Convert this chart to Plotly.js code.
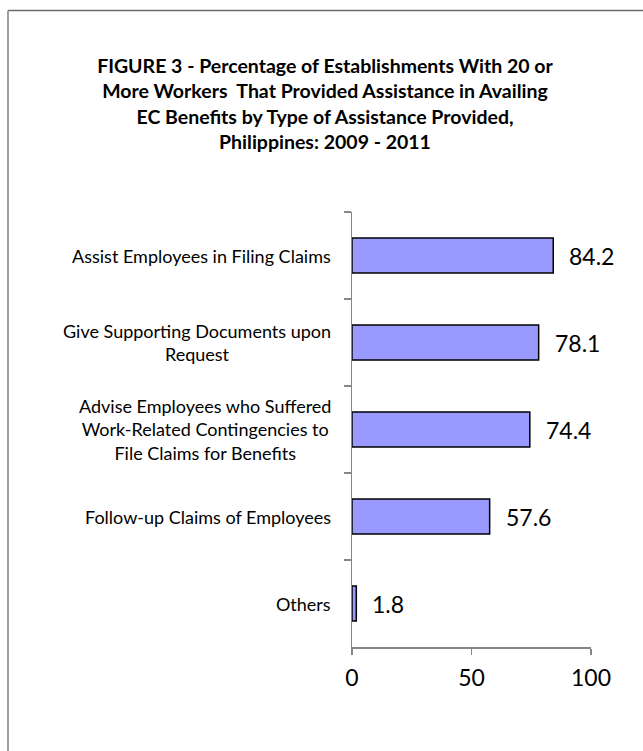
<!DOCTYPE html>
<html>
<head>
<meta charset="utf-8">
<script src="https://cdn.plot.ly/plotly-3.0.1.min.js"></script>
<style>
html,body{margin:0;padding:0;background:#fff;}
#chart{width:643px;height:751px;}
</style>
</head>
<body>
<div id="chart"></div>
<script>
const categories = [
  "Assist Employees in Filing Claims",
  "Give Supporting Documents upon<br>Request",
  "Advise Employees who Suffered<br>Work-Related Contingencies to<br>File Claims for Benefits",
  "Follow-up Claims of Employees",
  "Others"
];
const values = [84.2, 78.1, 74.4, 57.6, 1.8];
const valueLabels = ["84.2", "78.1", "74.4", "57.6", "1.8"];
const xTickVals = [0, 50, 100];
const xTickText = ["0", "50", "100"];
const titleText = "FIGURE 3 - Percentage of Establishments With 20 or<br>More Workers  That Provided Assistance in Availing<br>EC Benefits by Type of Assistance Provided,<br>Philippines: 2009 - 2011";

const FONT = "Lato, 'Liberation Sans', sans-serif";
const W = 643, H = 751;
const M = {l: 352, r: 52, t: 212, b: 104};
const pw = W - M.l - M.r, ph = H - M.t - M.b;
const px2x = p => (p - M.l) / pw;
const py2y = p => (H - M.b - p) / ph;

const trace = {
  type: 'bar',
  orientation: 'h',
  x: values,
  y: categories,
  marker: {color: '#9999FF', line: {color: '#000000', width: 1.5}},
  hoverinfo: 'x+y'
};

const annotations = [];
categories.forEach((c, i) => {
  annotations.push({
    x: 0, y: c, xref: 'x', yref: 'y',
    text: c, showarrow: false,
    xanchor: 'right', yanchor: 'middle', align: 'center',
    xshift: -19,
    font: {family: FONT, size: 18, color: '#000'}
  });
  annotations.push({
    x: values[i], y: c, xref: 'x', yref: 'y',
    text: valueLabels[i], showarrow: false,
    xanchor: 'left', yanchor: 'middle',
    xshift: 14,
    font: {family: FONT, size: 23, color: '#000'}
  });
});

const layout = {
  width: W, height: H,
  margin: M,
  paper_bgcolor: '#fff', plot_bgcolor: '#fff',
  showlegend: false,
  bargap: 0.6,
  title: {
    text: titleText,
    font: {family: FONT, size: 19.5, color: '#000', weight: 'bold'},
    xref: 'container', yref: 'container',
    x: 325 / W, xanchor: 'center',
    y: 1 - 73 / H, yanchor: 'top'
  },
  xaxis: {
    range: [0, 100],
    tickvals: xTickVals, ticktext: xTickText,
    ticks: 'outside', ticklen: 6, tickwidth: 1.5, tickcolor: '#868686',
    ticklabelstandoff: 4,
    showline: true, linecolor: '#868686', linewidth: 1.5,
    showgrid: false, zeroline: false,
    tickfont: {family: FONT, size: 23, color: '#000'},
    fixedrange: true
  },
  yaxis: {
    type: 'category',
    autorange: 'reversed',
    showticklabels: false,
    tickson: 'boundaries',
    ticks: 'outside', ticklen: 7, tickwidth: 1.5, tickcolor: '#868686',
    showline: true, linecolor: '#868686', linewidth: 1.5,
    showgrid: false, zeroline: false,
    fixedrange: true
  },
  annotations: annotations,
  shapes: [
    {type: 'line', xref: 'paper', yref: 'paper',
     x0: px2x(8), x1: px2x(660), y0: py2y(10.5), y1: py2y(10.5),
     line: {color: '#6b6b6b', width: 1.5}},
    {type: 'line', xref: 'paper', yref: 'paper',
     x0: px2x(8), x1: px2x(8), y0: py2y(10.5), y1: py2y(780),
     line: {color: '#808080', width: 1.5}}
  ]
};

Plotly.newPlot('chart', [trace], layout, {displayModeBar: false, staticPlot: true});
</script>
</body>
</html>
